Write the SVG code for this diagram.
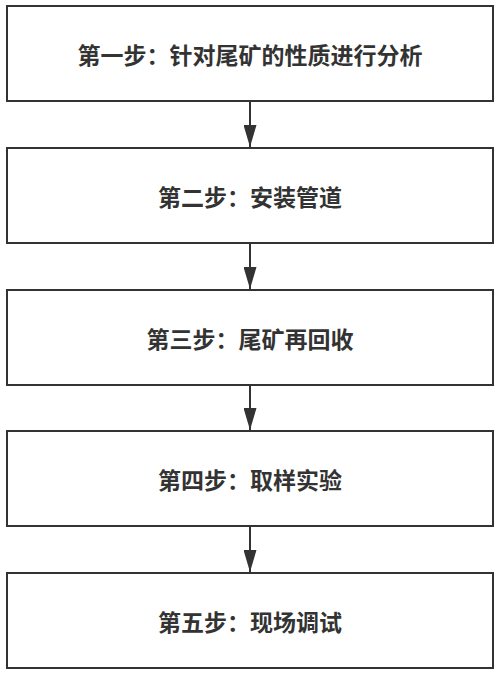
<svg xmlns="http://www.w3.org/2000/svg" width="500" height="676" viewBox="0 0 500 676">
<defs>
<style>
.box{fill:#fff;stroke:#333;stroke-width:2}
.lbl{font-family:"Noto Sans CJK SC","Noto Sans",sans-serif;font-size:23px;font-weight:bold;fill:#333;text-anchor:middle;dominant-baseline:central}
.conn{stroke:#333;stroke-width:2;fill:none}
</style>
<marker id="ah" markerUnits="userSpaceOnUse" markerWidth="22" markerHeight="13" refX="22" refY="6.5" orient="auto" viewBox="0 0 22 13">
<path d="M0,0 L22,6.5 L0,13 Z" fill="#333"/>
</marker>
</defs>
<rect width="500" height="676" fill="#fff"/>
<g id="connectors">
<line class="conn" x1="250" y1="101" x2="250" y2="147" marker-end="url(#ah)"/>
<line class="conn" x1="250" y1="243" x2="250" y2="289" marker-end="url(#ah)"/>
<line class="conn" x1="250" y1="385" x2="250" y2="430" marker-end="url(#ah)"/>
<line class="conn" x1="250" y1="526" x2="250" y2="572" marker-end="url(#ah)"/>
</g>
<g id="step1"><rect class="box" x="7" y="6" width="486" height="95"/><text class="lbl" x="250" y="54">第一步：针对尾矿的性质进行分析</text></g>
<g id="step2"><rect class="box" x="7" y="148" width="486" height="95"/><text class="lbl" x="250" y="196">第二步：安装管道</text></g>
<g id="step3"><rect class="box" x="7" y="290" width="486" height="95"/><text class="lbl" x="250" y="338">第三步：尾矿再回收</text></g>
<g id="step4"><rect class="box" x="7" y="431" width="486" height="95"/><text class="lbl" x="250" y="479">第四步：取样实验</text></g>
<g id="step5"><rect class="box" x="7" y="573" width="486" height="95"/><text class="lbl" x="250" y="621">第五步：现场调试</text></g>
</svg>
